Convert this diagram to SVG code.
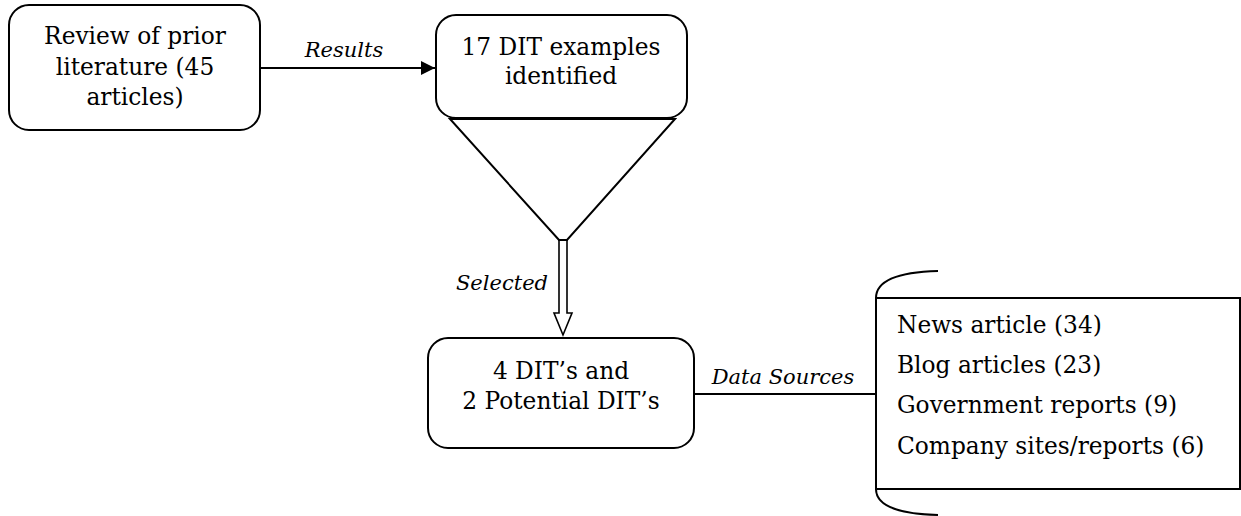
<svg xmlns="http://www.w3.org/2000/svg" width="1241" height="516" viewBox="0 0 1241 516">
<style>
.box{fill:#fff;stroke:#000;stroke-width:2}
.ln{fill:none;stroke:#000;stroke-width:2}
.t{font-family:"DejaVu Serif","Liberation Serif",serif;font-size:23.3px;fill:#000;text-anchor:middle}
.l{font-family:"DejaVu Serif","Liberation Serif",serif;font-size:23.3px;fill:#000}
.i{font-family:"DejaVu Serif","Liberation Serif",serif;font-size:21px;font-style:italic;fill:#000;text-anchor:middle}
</style>
<defs>
<marker id="ah" markerWidth="14" markerHeight="14" refX="10" refY="5" orient="auto" markerUnits="userSpaceOnUse" viewBox="0 0 10 10">
<path d="M0,0 L10,5 L0,10 Z" fill="#000"/>
</marker>
</defs>
<g id="connectors">
<line class="ln" x1="260" y1="68" x2="435" y2="68" marker-end="url(#ah)"/>
<text class="i" x="344" y="57">Results</text>
<polygon class="ln" style="fill:#fff;stroke-width:1.6" points="559,240 567,240 567,313 572,313 563,335 554,313 559,313"/>
<text class="i" x="502" y="290">Selected</text>
<line class="ln" x1="694" y1="394" x2="876" y2="394"/>
<text class="i" x="783" y="384">Data Sources</text>
</g>
<g id="funnel">
<polygon class="ln" style="fill:#fff" points="450,119 675,119 567,240 559,240"/>
</g>
<g id="review">
<rect class="box" x="9" y="5" width="251" height="125" rx="20"/>
<text class="t" x="135" y="44">Review of prior</text>
<text class="t" x="135" y="75">literature (45</text>
<text class="t" x="135" y="105">articles)</text>
</g>
<g id="examples">
<rect class="box" x="436" y="15" width="251" height="103" rx="20"/>
<text class="t" x="561" y="55">17 DIT examples</text>
<text class="t" x="561" y="84">identified</text>
</g>
<g id="selected">
<rect class="box" x="428" y="338" width="266" height="110" rx="20"/>
<text class="t" x="561" y="379">4 DIT’s and</text>
<text class="t" x="561" y="409">2 Potential DIT’s</text>
</g>
<g id="sources">
<rect class="box" x="876" y="298" width="364" height="191"/>
<path class="ln" d="M876,298 C876,280 900,272 938,271"/>
<path class="ln" d="M876,489 C876,507 900,514 938,515"/>
<text class="l" x="897" y="333">News article (34)</text>
<text class="l" x="897" y="373">Blog articles (23)</text>
<text class="l" x="897" y="413">Government reports (9)</text>
<text class="l" x="897" y="454">Company sites/reports (6)</text>
</g>
</svg>
